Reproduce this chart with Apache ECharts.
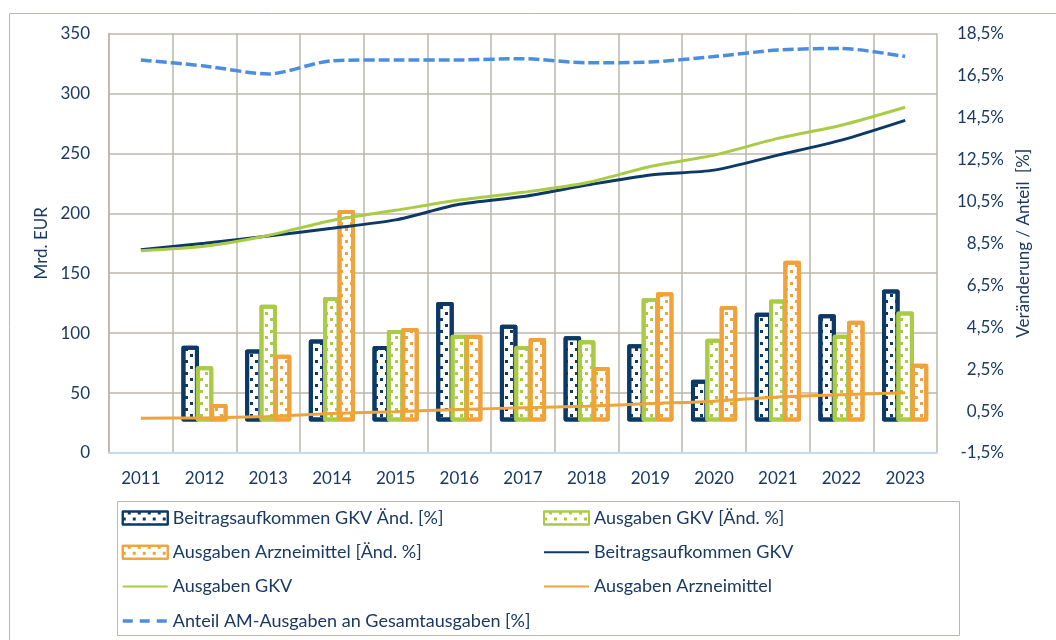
<!DOCTYPE html>
<html><head><meta charset="utf-8">
<script src="https://cdn.jsdelivr.net/npm/echarts@6/dist/echarts.min.js"></script>
<style>html,body{margin:0;padding:0;background:#fff}#c{width:1056px;height:640px}</style>
</head><body><div id="c"></div>
<script>
// ---- data ----
const years = ['2011','2012','2013','2014','2015','2016','2017','2018','2019','2020','2021','2022','2023'];
const beitragAend = [null, 3.61, 3.44, 3.91, 3.60, 5.70, 4.62, 4.07, 3.68, 1.99, 5.19, 5.11, 6.29];
const ausgabenGkvAend = [null, 2.64, 5.57, 5.94, 4.36, 4.14, 3.60, 3.88, 5.89, 3.95, 5.82, 4.14, 5.25];
const arzneiAend = [null, 0.84, 3.18, 10.08, 4.46, 4.14, 3.98, 2.60, 6.16, 5.51, 7.66, 4.81, 2.75];
const beitrag = [169.5, 175.0, 181.0, 187.5, 194.5, 207.5, 214.0, 223.5, 232.0, 236.0, 248.5, 261.0, 277.5];
const ausgabenGkv = [168.8, 172.5, 181.5, 194.0, 202.5, 211.0, 217.5, 225.5, 239.0, 248.5, 262.5, 273.5, 288.5];
const arznei = [29.0, 29.3, 30.5, 33.0, 34.5, 36.3, 37.7, 39.0, 41.2, 43.2, 46.8, 48.6, 50.3];
const anteil = [17.24, 16.95, 16.57, 17.20, 17.24, 17.24, 17.30, 17.10, 17.14, 17.40, 17.71, 17.79, 17.40];
const leftTicks = {min: 0, max: 350, interval: 50};
const rightTicks = {min: -1.5, max: 18.5, interval: 2};

const NAVY = '#0c3966', GREEN = '#aacb45', ORANGE = '#f0a33b', BLUE = '#4b8ee0';
const TEXT = '#1a3a63', GRID = '#bdb6ac';
const FONT = 'Lato';

function barSeries(name, data, color) {
  return {
    name, type: 'bar', yAxisIndex: 1, data,
    barWidth: 17.5, barGap: '-18%',
    itemStyle: {
      color: '#ffffff', borderColor: color, borderWidth: 4, borderJoin: 'round',
      decal: { symbol: 'rect', symbolSize: 1, color: color,
               dashArrayX: [[3, 7], [0, 5, 3, 2]], dashArrayY: [3, 3] }
    }
  };
}
function lineSeries(name, data, color, axis, type, width) {
  return {
    name, type: 'line', yAxisIndex: axis, data, smooth: 0.25,
    symbol: 'none', z: 5,
    lineStyle: { color, width: width || 3, type: type || 'solid' },
    itemStyle: { color }
  };
}
const hideSym = { opacity: 0 };
const legendText = { color: TEXT, fontSize: 18, fontFamily: FONT, lineHeight: 20 };

const chart = echarts.init(document.getElementById('c'));
chart.setOption({
  animation: false,
  textStyle: { fontFamily: FONT },
  graphic: [
    { type: 'rect', shape: { x: 9.5, y: 13.5, width: 1100, height: 700 },
      style: { fill: 'none', stroke: GRID, lineWidth: 1 }, z: -10 },
    { type: 'rect', shape: { x: 117.5, y: 501.5, width: 842, height: 134 },
      style: { fill: 'none', stroke: GRID, lineWidth: 1 }, z: -10 }
  ],
  grid: { left: 109, right: 119, top: 33.5, bottom: 187, containLabel: false },
  legend: [
    { orient: 'vertical', left: 121, top: 508, padding: 0, itemWidth: 45, itemHeight: 13,
      itemGap: 14.3, textStyle: legendText,
      data: [
        { name: 'Beitragsaufkommen GKV Änd. [%]', icon: 'rect' },
        { name: 'Ausgaben Arzneimittel [Änd. %]', icon: 'rect' },
        { name: 'Ausgaben GKV', itemStyle: hideSym },
        { name: 'Anteil AM-Ausgaben an Gesamtausgaben [%]', itemStyle: hideSym,
          lineStyle: { type: [10, 7], width: 3.5 } }
      ] },
    { orient: 'vertical', left: 543, top: 508, padding: 0, itemWidth: 45, itemHeight: 13,
      itemGap: 14.3, textStyle: legendText,
      data: [
        { name: 'Ausgaben GKV [Änd. %]', icon: 'rect' },
        { name: 'Beitragsaufkommen GKV', itemStyle: hideSym },
        { name: 'Ausgaben Arzneimittel', itemStyle: hideSym }
      ] }
  ],
  xAxis: {
    type: 'category', data: years, boundaryGap: true,
    axisLine: { lineStyle: { color: '#c6d9ee', width: 2 } },
    axisTick: { show: false },
    axisLabel: { color: TEXT, fontSize: 17, margin: 17, fontFamily: FONT },
    splitLine: { show: true, interval: 0, lineStyle: { color: GRID, width: 1.5 } }
  },
  yAxis: [
    { type: 'value', min: leftTicks.min, max: leftTicks.max, interval: leftTicks.interval,
      name: 'Mrd. EUR', nameLocation: 'middle', nameGap: 58,
      nameTextStyle: { color: TEXT, fontSize: 17, fontFamily: FONT },
      axisLine: { show: true, lineStyle: { color: GRID, width: 1.5 } },
      axisTick: { show: false },
      axisLabel: { color: TEXT, fontSize: 17, margin: 19, fontFamily: FONT },
      splitLine: { show: true, lineStyle: { color: GRID, width: 1.5 } } },
    { type: 'value', min: rightTicks.min, max: rightTicks.max, interval: rightTicks.interval,
      name: 'Veränderung / Anteil  [%]', nameLocation: 'middle', nameGap: 77,
      nameTextStyle: { color: TEXT, fontSize: 17, fontFamily: FONT },
      axisLine: { show: false }, axisTick: { show: false },
      axisLabel: { color: TEXT, fontSize: 17, margin: 67, align: 'right', fontFamily: FONT,
        formatter: v => v.toFixed(1).replace('.', ',') + '%' },
      splitLine: { show: false } }
  ],
  series: [
    barSeries('Beitragsaufkommen GKV Änd. [%]', beitragAend, NAVY),
    barSeries('Ausgaben GKV [Änd. %]', ausgabenGkvAend, GREEN),
    barSeries('Ausgaben Arzneimittel [Änd. %]', arzneiAend, ORANGE),
    lineSeries('Beitragsaufkommen GKV', beitrag, NAVY, 0),
    lineSeries('Ausgaben GKV', ausgabenGkv, GREEN, 0),
    lineSeries('Ausgaben Arzneimittel', arznei, ORANGE, 0),
    lineSeries('Anteil AM-Ausgaben an Gesamtausgaben [%]', anteil, BLUE, 1, [11, 4], 3.5)
  ]
});
</script></body></html>
